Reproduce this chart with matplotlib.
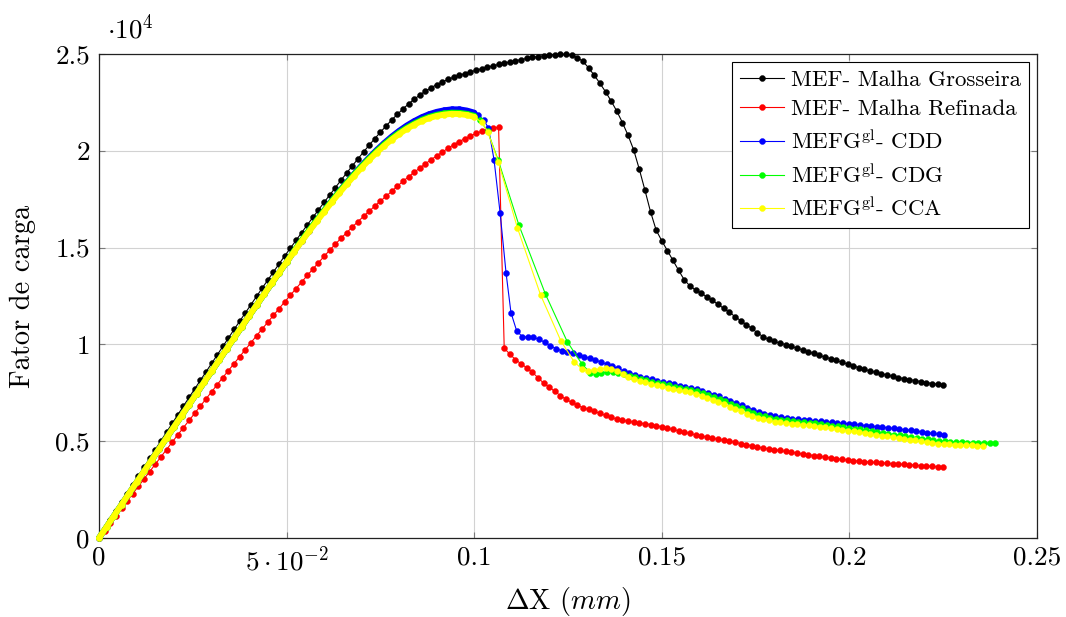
import matplotlib
matplotlib.use("Agg")
import matplotlib.pyplot as plt

# ---------------- data ----------------
# displacement grid of the two MEF runs (mm)
x_mef = [0, .0015, .003, .0045, .006, .0075, .009, .0105, .012, .0135, .015, .0165, .018, .0195,
         .021, .0225, .024, .0255, .027, .0285, .03, .0315, .033, .0345, .036, .0375, .039, .0405,
         .042, .0435, .045, .0465, .048, .0495, .051, .0525, .054, .0555, .057, .0585, .06, .0615,
         .063, .0645, .066, .0675, .069, .0705, .072, .0735, .075, .0765, .078, .0795, .081, .0825,
         .084, .0855, .087, .0885, .09, .0915, .093, .0945, .096, .0975, .099, .1005, .102, .1035,
         .105, .1065, .108, .1095, .111, .1125, .114, .1155, .117, .1185, .12, .1215, .123, .1245,
         .126, .1275, .129, .1305, .132, .1335, .135, .1365, .138, .1395, .141, .1425, .144, .1455,
         .147, .1485, .15, .1515, .153, .1545, .156, .1575, .159, .1605, .162, .1635, .165, .1665,
         .168, .1695, .171, .1725, .174, .1755, .177, .1785, .18, .1815, .183, .1845, .186, .1875,
         .189, .1905, .192, .1935, .195, .1965, .198, .1995, .201, .2025, .204, .2055, .207, .2085,
         .21, .2115, .213, .2145, .216, .2175, .219, .2205, .222, .2235, .225]

load_grosseira = [0, 460, 920, 1380, 1840, 2290, 2750, 3200, 3660, 4110, 4570, 5020, 5470, 5920,
                  6370, 6810, 7260, 7700, 8140, 8580, 9020, 9460, 9900, 10330, 10770, 11200, 11630,
                  12060, 12490, 12910, 13330, 13750, 14160, 14570, 14970, 15370, 15770, 16170,
                  16560, 16950, 17340, 17720, 18100, 18480, 18850, 19220, 19580, 19940, 20290,
                  20630, 20960, 21280, 21590, 21880, 22160, 22420, 22660, 22880, 23080, 23260,
                  23420, 23560, 23690, 23800, 23900, 23990, 24080, 24160, 24240, 24320, 24390,
                  24460, 24530, 24590, 24650, 24710, 24770, 24820, 24870, 24910, 24940, 24960,
                  24980, 24980, 24930, 24810, 24620, 24280, 23900, 23490, 23050, 22570, 22050,
                  21460, 20800, 20050, 19050, 17970, 16850, 15900, 15350, 14840, 14340, 13820,
                  13330, 13020, 12810, 12640, 12460, 12270, 12070, 11860, 11660, 11440, 11230,
                  11020, 10830, 10590, 10400, 10260, 10150, 10070, 9990, 9900, 9810, 9720, 9620,
                  9530, 9430, 9350, 9260, 9170, 9080, 8990, 8900, 8800, 8710, 8630, 8560, 8490,
                  8420, 8350, 8290, 8230, 8180, 8130, 8080, 8030, 7980, 7940, 7900]

load_refinada = [0, 380, 770, 1150, 1530, 1910, 2290, 2670, 3050, 3430, 3810, 4190, 4570, 4950,
                 5330, 5700, 6070, 6440, 6810, 7180, 7550, 7920, 8290, 8650, 9010, 9370, 9730,
                 10090, 10450, 10800, 11150, 11500, 11850, 12200, 12540, 12880, 13220, 13560,
                 13890, 14220, 14550, 14870, 15180, 15480, 15770, 16060, 16340, 16610, 16880,
                 17140, 17400, 17650, 17900, 18170, 18420, 18660, 18890, 19110, 19330, 19540,
                 19740, 19930, 20130, 20310, 20480, 20630, 20770, 20900, 21010, 21100, 21170,
                 21220, 9800, 9500, 9210, 9000, 8790, 8560, 8280, 8000, 7790, 7570, 7350, 7160,
                 7000, 6860, 6730, 6640, 6540, 6440, 6330, 6230, 6150, 6080, 6030, 5990, 5940,
                 5900, 5860, 5810, 5740, 5670, 5610, 5540, 5470, 5400, 5330, 5270, 5210, 5150,
                 5100, 5050, 5000, 4940, 4880, 4820, 4760, 4700, 4650, 4600, 4560, 4520, 4470,
                 4430, 4390, 4340, 4300, 4260, 4220, 4180, 4140, 4100, 4060, 4030, 4000, 3970,
                 3950, 3920, 3900, 3880, 3860, 3840, 3820, 3800, 3780, 3760, 3740, 3720, 3700,
                 3680, 3660]

# pre-peak displacement grid shared by the three MEFG^gl runs (dense load steps)
x_rise = [0, .002, .004, .006, .008, .01, .012, .014, .016, .018, .02, .022, .024, .026, .028,
          .03, .032, .034, .036, .038, .04, .042, .044, .046, .048, .05, .052, .054, .056, .058,
          .06, .062, .064, .066, .068, .07, .072, .074, .076, .078, .08, .082, .084, .086, .088,
          .09, .092, .094, .096, .098, .1]

cdd_rise = [0, 570, 1150, 1720, 2300, 2870, 3440, 4020, 4590, 5170, 5740, 6310, 6890, 7460, 8040,
            8610, 9180, 9760, 10330, 10900, 11470, 12030, 12590, 13150, 13700, 14250, 14810,
            15350, 15880, 16400, 16910, 17410, 17890, 18360, 18810, 19240, 19650, 20040, 20400,
            20730, 21030, 21300, 21530, 21730, 21890, 22010, 22090, 22140, 22140, 22080, 21970]
cdd_x_post = [.1011, .1026, .1038, .1053, .1069, .1085, .1098,
              .1113, .1128, .1143, .1158, .1173, .1188, .1203, .1218, .1233, .1248, .1263, .1278,
              .1293, .1308, .1323, .1338, .1353, .1368, .1383, .1398, .1413, .1428, .1443, .1458,
              .1473, .1488, .1503, .1518, .1533, .1548, .1563, .1578, .1593, .1608, .1623, .1638,
              .1653, .1668, .1683, .1698, .1713, .1728, .1743, .1758, .1773, .1788, .1803, .1818,
              .1833, .1848, .1863, .1878, .1893, .1908, .1923, .1938, .1953, .1968, .1983, .1998,
              .2013, .2028, .2043, .2058, .2073, .2088, .2103, .2118, .2133, .2148, .2163, .2178,
              .2193, .2208, .2223, .2238, .2253]
cdd_post = [21850, 21570, 21180, 19520, 16800, 13670, 11640,
            10710, 10400, 10370, 10360, 10270, 10100, 9940, 9780, 9680, 9600, 9530, 9450, 9370,
            9280, 9190, 9090, 8980, 8880, 8760, 8640, 8530, 8430, 8340, 8260, 8190, 8120, 8050,
            7990, 7930, 7870, 7810, 7750, 7680, 7600, 7510, 7410, 7310, 7200, 7080, 6970, 6850,
            6730, 6620, 6520, 6430, 6360, 6300, 6250, 6210, 6170, 6140, 6110, 6080, 6050, 6020,
            5990, 5970, 5950, 5920, 5900, 5870, 5840, 5810, 5780, 5750, 5720, 5690, 5660, 5630,
            5590, 5560, 5520, 5480, 5440, 5400, 5360, 5320]

cdg_rise = [0, 570, 1150, 1720, 2300, 2870, 3440, 4020, 4590, 5170, 5740, 6310, 6890, 7460, 8040,
            8610, 9180, 9760, 10330, 10900, 11470, 12030, 12590, 13150, 13700, 14250, 14830,
            15370, 15900, 16410, 16910, 17400, 17880, 18340, 18780, 19200, 19600, 19980, 20330,
            20650, 20940, 21190, 21410, 21600, 21750, 21860, 21930, 21970, 21960, 21910, 21810]
cdg_x_post = [.1015, .1036, .1064, .1119, .1190, .1248, .1287, .1309, .1324, .1339, .1354, .1369,
              .1384, .1399, .1414,
              .1429, .1444, .1459, .1474, .1489, .1504, .1519, .1534, .1549, .1564, .1579, .1594,
              .1609, .1624, .1639, .1654, .1669, .1684, .1699, .1714, .1729, .1744, .1759, .1774,
              .1789, .1804, .1819, .1834, .1849, .1864, .1879, .1894, .1909, .1924, .1939, .1954,
              .1969, .1984, .1999, .2014, .2029, .2044, .2059, .2074, .2089, .2104, .2119, .2134,
              .2149, .2164, .2179, .2194, .2209, .2224, .2239, .2254, .2269, .2284, .2299, .2314,
              .2329, .2344, .2359, .2374, .2389]
cdg_post = [21600, 21000, 19520, 16170, 12590, 10140, 8990, 8540, 8470, 8510, 8570, 8590, 8540,
            8460, 8380,
            8320, 8230, 8150, 8080, 8010, 7940, 7880, 7820, 7760, 7700, 7640, 7570, 7490, 7390,
            7290, 7180, 7060, 6940, 6820, 6700, 6580, 6470, 6370, 6280, 6210, 6150, 6110, 6070,
            6040, 6010, 5980, 5950, 5920, 5890, 5850, 5810, 5770, 5730, 5690, 5650, 5610, 5570,
            5520, 5480, 5430, 5390, 5340, 5300, 5250, 5210, 5170, 5130, 5090, 5050, 5020, 4990,
            4970, 4950, 4940, 4930, 4920, 4910, 4900, 4900, 4890]

cca_rise = [0, 570, 1150, 1720, 2300, 2870, 3440, 4020, 4590, 5170, 5740, 6310, 6890, 7460, 8040,
            8610, 9180, 9760, 10330, 10900, 11470, 12030, 12590, 13150, 13700, 14250, 14790,
            15320, 15840, 16350, 16850, 17340, 17810, 18270, 18710, 19130, 19530, 19910, 20260,
            20580, 20870, 21130, 21350, 21540, 21690, 21800, 21870, 21910, 21900, 21850, 21750]
cca_x_post = [.1020, .1036, .1064, .1115, .1177, .1231, .1266, .1288, .1304, .1319, .1335, .1350,
              .1365, .1380, .1396, .1411,
              .1426, .1441, .1456, .1471, .1486, .1501, .1516, .1531, .1546, .1561, .1576, .1591,
              .1606, .1621, .1636, .1651, .1666, .1681, .1696, .1711, .1726, .1741, .1756, .1771,
              .1786, .1801, .1816, .1831, .1846, .1861, .1876, .1891, .1906, .1921, .1936, .1951,
              .1966, .1981, .1996, .2011, .2026, .2041, .2056, .2071, .2086, .2101, .2116, .2131,
              .2146, .2161, .2176, .2191, .2206, .2221, .2236, .2251, .2266, .2281, .2296, .2311,
              .2326, .2341, .2356]
cca_post = [21470, 20990, 19440, 16030, 12550, 10180, 9110, 8710, 8640, 8680, 8730, 8770, 8730,
            8640, 8470, 8330,
            8220, 8130, 8050, 7980, 7910, 7840, 7770, 7710, 7650, 7590, 7520, 7440, 7350, 7250,
            7140, 7030, 6910, 6790, 6670, 6550, 6430, 6320, 6220, 6140, 6070, 6010, 5970, 5940,
            5910, 5880, 5850, 5820, 5790, 5750, 5720, 5680, 5640, 5590, 5550, 5510, 5470, 5420,
            5380, 5340, 5290, 5250, 5210, 5160, 5120, 5080, 5040, 5000, 4960, 4920, 4880, 4850,
            4830, 4810, 4800, 4790, 4780, 4770, 4770]

labels = ["MEF- Malha Grosseira", "MEF- Malha Refinada",
          r"MEFG$^{\mathrm{gl}}$- CDD", r"MEFG$^{\mathrm{gl}}$- CDG", r"MEFG$^{\mathrm{gl}}$- CCA"]
colors = ["black", "#ff0000", "#0000ff", "#00ff00", "#ffff00"]

x_ticks = [0, 0.05, 0.1, 0.15, 0.2, 0.25]
x_tick_labels = ["0", r"$5\cdot10^{-2}$", "0.1", "0.15", "0.2", "0.25"]
y_ticks = [0, 5000, 10000, 15000, 20000, 25000]
y_tick_labels = ["0", "0.5", "1", "1.5", "2", "2.5"]

# ---------------- style ----------------
plt.rcParams["font.family"] = "cmr10"
plt.rcParams["mathtext.fontset"] = "cm"
plt.rcParams["axes.unicode_minus"] = False
plt.rcParams["axes.formatter.use_mathtext"] = True

W, H = 1066, 617
fig = plt.figure(figsize=(W / 100, H / 100), dpi=100)
ax = fig.add_axes([99 / W, 1 - 538 / H, 938 / W, 484 / H])

MS = 4.3
LW = 0.8
TICK_FS = 19.5
LABEL_FS = 20.5
LEG_FS = 16.5


def draw(x, y, color, label, z, n_dense=0):
    if n_dense:
        ax.plot(x[:n_dense], y[:n_dense], color=color, lw=MS, solid_capstyle="round",
                solid_joinstyle="round", zorder=z, clip_on=False)
    line, = ax.plot(x, y, color=color, lw=LW, marker="o", ms=MS, mfc=color, mec=color,
                    mew=0.3, label=label, zorder=z + 0.5, clip_on=False)
    return line


draw(x_mef, load_grosseira, colors[0], labels[0], 3)
draw(x_mef, load_refinada, colors[1], labels[1], 4)
draw(x_rise + cdd_x_post, cdd_rise + cdd_post, colors[2], labels[2], 5, len(x_rise))
draw(x_rise + cdg_x_post, cdg_rise + cdg_post, colors[3], labels[3], 6, len(x_rise))
draw(x_rise + cca_x_post, cca_rise + cca_post, colors[4], labels[4], 7, len(x_rise))

ax.set_xlim(0, 0.25)
ax.set_ylim(0, 25000)
ax.set_xticks(x_ticks)
ax.set_xticklabels(x_tick_labels)
ax.set_yticks(y_ticks)
ax.set_yticklabels(y_tick_labels)

ax.grid(True, color="#d2d2d2", lw=0.8)
ax.set_axisbelow(True)
ax.tick_params(direction="in", length=4.5, width=0.8, color="#7a7a7a", top=True, right=True,
               labelsize=TICK_FS)
ax.tick_params(axis="x", pad=5.5)
ax.tick_params(axis="y", pad=6.5)
for s in ax.spines.values():
    s.set_color("#222222")
    s.set_linewidth(0.9)

ax.set_xlabel(r"$\Delta$X $(mm)$", fontsize=LABEL_FS)
ax.xaxis.set_label_coords(0.5, -(585 - 538) / 484)
ax.set_ylabel("Fator de carga", fontsize=LABEL_FS)
ax.yaxis.set_label_coords((36 - 99) / 938, 0.5)

ax.text((107 - 99) / 938, (538 - 38) / 484, r"$\cdot10^{4}$", transform=ax.transAxes,
        fontsize=TICK_FS, ha="left", va="baseline")

leg = ax.legend(loc="upper right", bbox_to_anchor=(0.9918, 0.984), fontsize=LEG_FS,
                frameon=True, fancybox=False, edgecolor="black", framealpha=1,
                borderpad=0.35, labelspacing=0.42, handlelength=1.95, handletextpad=0.3,
                borderaxespad=0, numpoints=1)
leg.get_frame().set_linewidth(0.8)
leg.set_zorder(20)

fig.savefig("out.png", dpi=100)
